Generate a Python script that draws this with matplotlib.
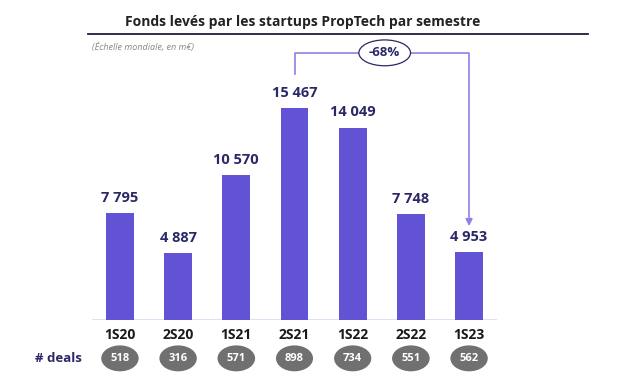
import matplotlib.pyplot as plt
from matplotlib.lines import Line2D

plt.rcParams['font.family'] = ['Open Sans', 'DejaVu Sans']

# data
semestres = ['1S20', '2S20', '1S21', '2S21', '1S22', '2S22', '1S23']
fonds = [7795, 4887, 10570, 15467, 14049, 7748, 4953]
deals = [518, 316, 571, 898, 734, 551, 562]
variation = '-68%'

bar_col = '#6252d4'
navy = '#2b2866'
lav = '#8b82e2'

W, H = 627, 382
fig = plt.figure(figsize=(W / 100, H / 100), dpi=100)
# axes placed in pixel terms
left, right, base, top = 92, 497, 320, 46
ax = fig.add_axes([left / W, (H - base) / H, (right - left) / W, (base - top) / H])
ymax = 20000
ax.set_xlim(-0.48, 6.48)
ax.set_ylim(0, ymax)
ax.axis('off')

x = list(range(len(semestres)))
ax.bar(x, fonds, width=0.48, color=bar_col, zorder=2)
ax.axhline(0, color='#dcd8f5', lw=1.2, zorder=1)

def fmt(v):
    return f'{v:,}'.replace(',', ' ')

for i, v in zip(x, fonds):
    ax.text(i, v + 600, fmt(v), ha='center', va='bottom', fontsize=10.5,
            fontweight='bold', color=navy)

# x labels and deals
for i, lab, d in zip(x, semestres, deals):
    ax.text(i, -1100, lab, ha='center', va='center', fontsize=10,
            fontweight='bold', color='#1a1a1a', clip_on=False)
    ax.text(i, -2800, str(d), ha='center', va='center', fontsize=8,
            fontweight='bold', color='white', clip_on=False,
            bbox=dict(boxstyle='ellipse,pad=0.33', fc='#707070', ec='none'))
ax.text(-0.65, -2800, '# deals', ha='right', va='center', fontsize=9.5,
        fontweight='bold', color=navy, clip_on=False)

# arrow from 2S21 to 1S23
y_top = 19500
ax.plot([3, 3, 6, 6], [17950, y_top, y_top, 7500], color=lav, lw=1.2,
        clip_on=False, zorder=3)
ax.annotate('', xy=(6, 6650), xytext=(6, 7600),
            arrowprops=dict(arrowstyle='-|>', color=lav, lw=1.2, mutation_scale=10))
ax.text(4.55, y_top, variation, ha='center', va='center', fontsize=9.5,
        fontweight='bold', color=navy, zorder=4, clip_on=False,
        bbox=dict(boxstyle='ellipse,pad=0.2', fc='white', ec=navy, lw=0.9))

# title, rule and subtitle
fig.text(303 / W, 1 - 22 / H, 'Fonds levés par les startups PropTech par semestre',
         ha='center', va='center', fontsize=10, fontweight='bold', color='#222222')
fig.add_artist(Line2D([88 / W, 588 / W], [1 - 34 / H, 1 - 34 / H],
                      color='#1e1e3a', lw=1.3))
fig.text(92 / W, 1 - 47 / H, '(Échelle mondiale, en m€)', ha='left', va='center',
         fontsize=6.5, style='italic', color='#888888')

fig.savefig('out.png', dpi=100)
